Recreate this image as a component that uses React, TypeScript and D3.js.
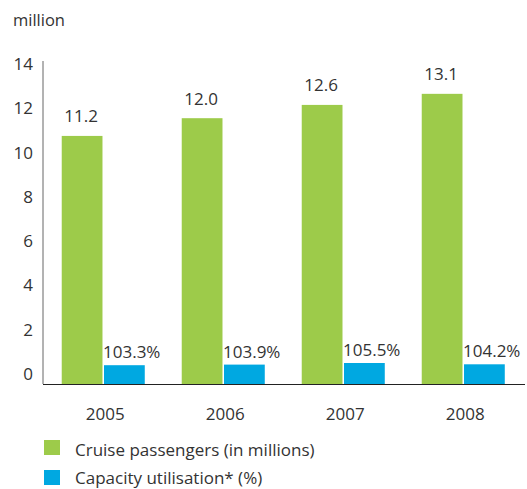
import React from "react";
import * as d3 from "d3";

const years = ["2005", "2006", "2007", "2008"];
const passengers = [11.2, 12.0, 12.6, 13.1];
const utilisation = [103.3, 103.9, 105.5, 104.2];
const yTicks = [0, 2, 4, 6, 8, 10, 12, 14];
const seriesNames = ["Cruise passengers (in millions)", "Capacity utilisation* (%)"];

const GREEN = "#9dcb4a";
const BLUE = "#00a8e1";
const TEXT = "#333333";
const FONT = "'Open Sans', 'Noto Sans', sans-serif";
const FS = 17;

export default function App() {
  const W = 527, H = 489;
  const baseY = 384;
  const axisX = 43;
  const y = d3.scaleLinear().domain([0, 14]).range([baseY, baseY - 14 * 22.15]);
  const y2 = d3.scaleLinear().domain([84.5, 105.5]).range([baseY, baseY - 21]);
  const x = d3.scaleBand<string>().domain(years).range([43, 523.5]).paddingInner(0.308).paddingOuter(0.156);
  const xi = d3.scaleBand<string>().domain(["p", "c"]).range([0, x.bandwidth()]).paddingInner(0.036);

  return (
    <svg width={W} height={H} style={{ position: "absolute", left: 0, top: 0, fontFamily: FONT }}>
      <text x={13} y={26} fontSize={16.5} fill={TEXT}>million</text>
      {yTicks.map((t) => (
        <text key={t} x={33} y={y(t) - 4} textAnchor="end" fontSize={FS} fill={TEXT}>{t}</text>
      ))}
      {years.map((yr, i) => {
        const gx = x(yr)!;
        const px = gx + xi("p")!;
        const cx = gx + xi("c")!;
        const bw = xi.bandwidth();
        return (
          <g key={yr}>
            <rect x={px} y={y(passengers[i])} width={bw} height={baseY - y(passengers[i])} fill={GREEN} />
            <rect x={cx} y={y2(utilisation[i])} width={bw} height={baseY - y2(utilisation[i])} fill={BLUE} />
            <text x={px + bw / 2 - 1} y={y(passengers[i]) - 13.5} textAnchor="middle" fontSize={FS} fill={TEXT}>
              {passengers[i].toFixed(1)}
            </text>
            <text x={cx - 1} y={y2(utilisation[i]) - 7} fontSize={FS} fill={TEXT}>
              {utilisation[i].toFixed(1) + "%"}
            </text>
            <text x={gx + x.bandwidth() / 2 + 2} y={420} textAnchor="middle" fontSize={FS} fill={TEXT}>{yr}</text>
          </g>
        );
      })}
      <line x1={axisX} x2={axisX} y1={61} y2={baseY} stroke="#666" strokeWidth={1} />
      <line x1={axisX} x2={525} y1={baseY + 0.5} y2={baseY + 0.5} stroke="#222" strokeWidth={1.2} />
      {seriesNames.map((s, i) => (
        <g key={s}>
          <rect x={44} y={440 + i * 30} width={16} height={15} fill={i === 0 ? GREEN : BLUE} />
          <text x={75} y={456 + i * 28} fontSize={FS} fill={TEXT}>{s}</text>
        </g>
      ))}
    </svg>
  );
}
